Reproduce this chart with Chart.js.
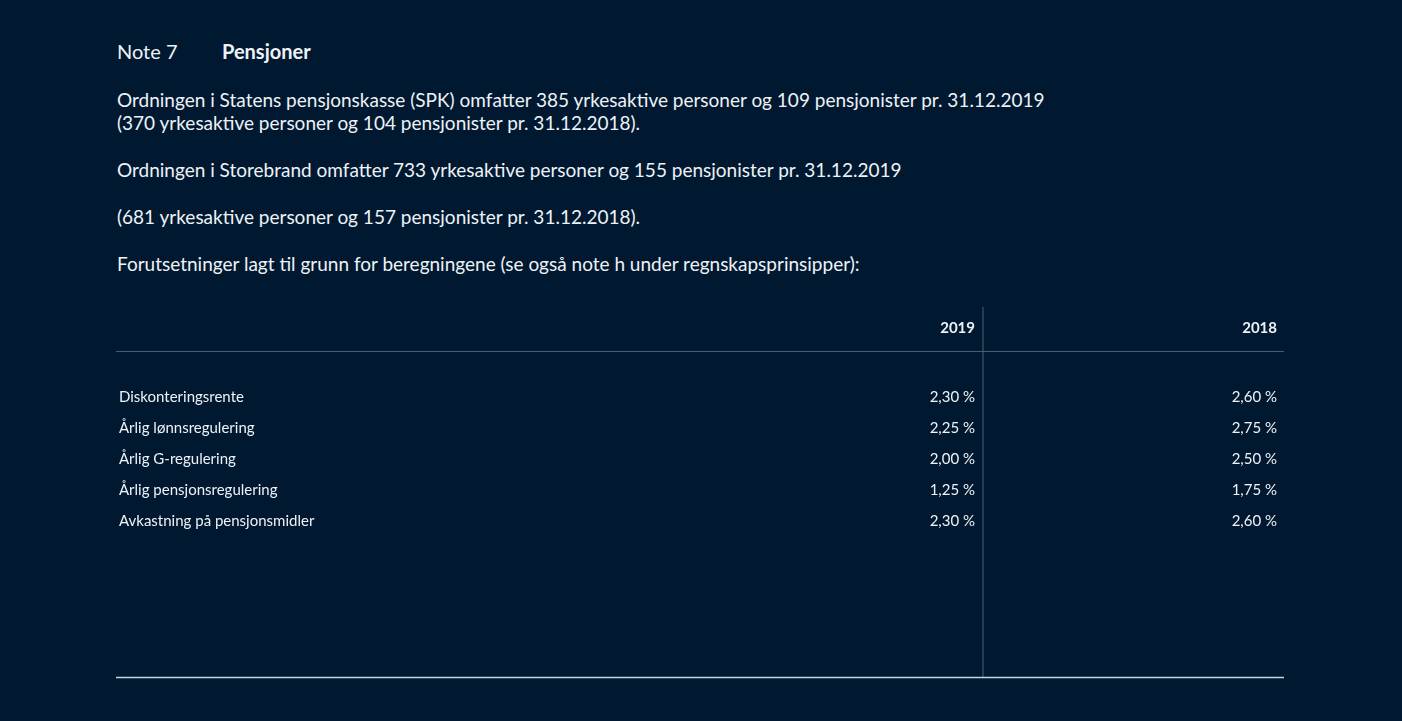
<!DOCTYPE html>
<html><head><meta charset="utf-8">
<script src="https://cdn.jsdelivr.net/npm/chart.js@4/dist/chart.umd.min.js"></script>
<style>
body{margin:0;background:#001930;width:1402px;height:721px;overflow:hidden;font-family:Lato,"Open Sans",sans-serif;color:#eef2f7;position:relative}
.t{position:absolute;white-space:nowrap;font-size:19px;line-height:23px}
#wrap{position:absolute;left:116px;top:300px;width:1170px;height:390px}
</style></head><body>
<div class="t" style="left:117px;top:40px;font-size:20px">Note 7</div>
<div class="t" style="left:222px;top:40px;font-size:20px;font-weight:bold">Pensjoner</div>
<div class="t" style="left:117px;top:88px">Ordningen i Statens pensjonskasse (SPK) omfatter 385 yrkesaktive personer og 109 pensjonister pr. 31.12.2019</div>
<div class="t" style="left:117px;top:111px">(370 yrkesaktive personer og 104 pensjonister pr. 31.12.2018).</div>
<div class="t" style="left:117px;top:158px">Ordningen i Storebrand omfatter 733 yrkesaktive personer og 155 pensjonister pr. 31.12.2019</div>
<div class="t" style="left:117px;top:205px">(681 yrkesaktive personer og 157 pensjonister pr. 31.12.2018).</div>
<div class="t" style="left:117px;top:252px">Forutsetninger lagt til grunn for beregningene (se også note h under regnskapsprinsipper):</div>
<div id="wrap"><canvas id="c"></canvas></div>
<script>
const headers = ['2019', '2018'];
const rowLabels = ['Diskonteringsrente', 'Årlig lønnsregulering', 'Årlig G-regulering', 'Årlig pensjonsregulering', 'Avkastning på pensjonsmidler'];
const values2019 = ['2,30 %', '2,25 %', '2,00 %', '1,25 %', '2,30 %'];
const values2018 = ['2,60 %', '2,75 %', '2,50 %', '1,75 %', '2,60 %'];

const rowPos = rowLabels.map((_, i) => i + 2.2);
const tablePlugin = {
  id: 'table',
  afterDraw(chart) {
    const {ctx, scales: {x, y}} = chart;
    const white = '#eef2f7';
    ctx.save();
    // lines
    ctx.strokeStyle = '#4a6076'; ctx.lineWidth = 1;
    ctx.beginPath(); ctx.moveTo(x.getPixelForValue(0), y.getPixelForValue(0.75)); ctx.lineTo(x.getPixelForValue(1168), y.getPixelForValue(0.75)); ctx.stroke();
    ctx.beginPath(); ctx.moveTo(x.getPixelForValue(867), y.getPixelForValue(-0.68)); ctx.lineTo(x.getPixelForValue(867), y.getPixelForValue(11.2)); ctx.stroke();
    ctx.strokeStyle = '#c9d3de'; ctx.lineWidth = 1.3;
    ctx.beginPath(); ctx.moveTo(x.getPixelForValue(0), y.getPixelForValue(11.2)); ctx.lineTo(x.getPixelForValue(1168), y.getPixelForValue(11.2)); ctx.stroke();
    ctx.fillStyle = white; ctx.textBaseline = 'middle';
    ctx.font = 'bold 15px Lato, sans-serif'; ctx.textAlign = 'right';
    ctx.fillText(headers[0], x.getPixelForValue(859), y.getPixelForValue(0));
    ctx.fillText(headers[1], x.getPixelForValue(1161), y.getPixelForValue(0));
    ctx.font = '15px Lato, sans-serif';
    rowLabels.forEach((l, i) => {
      const py = y.getPixelForValue(rowPos[i]);
      ctx.textAlign = 'left'; ctx.fillText(l, x.getPixelForValue(3), py);
      ctx.textAlign = 'right';
      ctx.fillText(values2019[i], x.getPixelForValue(859), py);
      ctx.fillText(values2018[i], x.getPixelForValue(1161), py);
    });
    ctx.restore();
  }
};
new Chart(document.getElementById('c'), {
  type: 'scatter',
  data: {datasets: [{data: rowPos.map(v => ({x: 0, y: v})), pointRadius: 0}]},
  options: {
    responsive: true, maintainAspectRatio: false, animation: false,
    layout: {padding: 0},
    plugins: {legend: {display: false}, tooltip: {enabled: false}},
    scales: {
      x: {type: 'linear', min: 0, max: 1170, display: false},
      y: {type: 'linear', min: -0.9, max: 11.6, reverse: true, display: false}
    }
  },
  plugins: [tablePlugin]
});
</script>
</body></html>
